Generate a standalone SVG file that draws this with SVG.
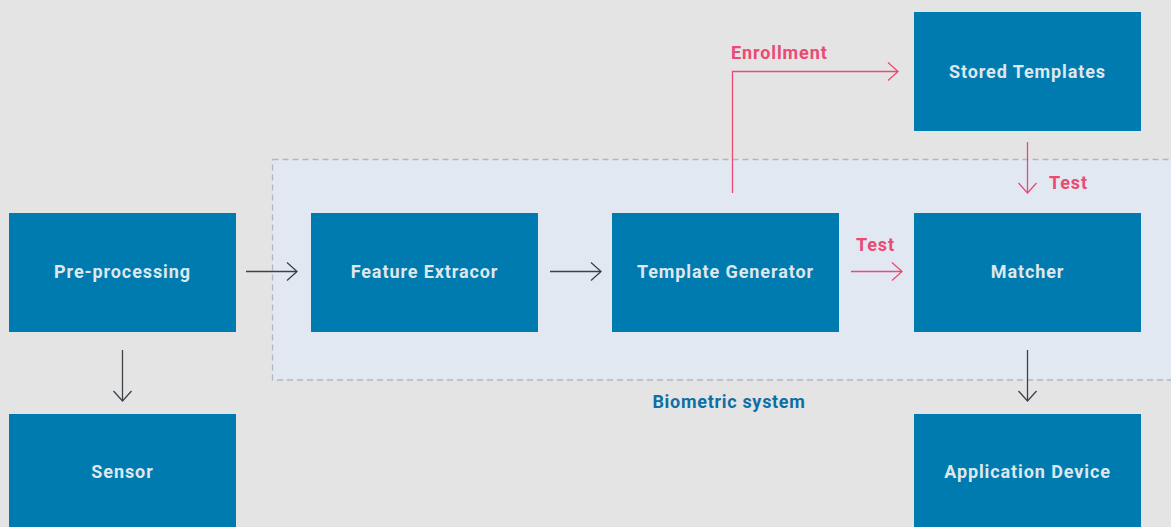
<svg xmlns="http://www.w3.org/2000/svg" width="1171" height="527" viewBox="0 0 1171 527">
<defs>
<style>
.node rect{fill:#007baf}
.node text{fill:#dfe7ee;font-family:Roboto,"Liberation Sans",sans-serif;font-weight:700;font-size:18px;text-anchor:middle;letter-spacing:0.9px}
.c{fill:none;stroke-width:1.3}
.dark{stroke:#3d4249}
.pink{stroke:#ea4a74}
.lbl{font-family:Roboto,"Liberation Sans",sans-serif;font-weight:700;font-size:18px;letter-spacing:0.9px}
</style>
<marker id="ad" viewBox="-11 -10 12 20" refX="0" refY="0" markerWidth="12" markerHeight="20" markerUnits="userSpaceOnUse" orient="auto">
<path d="M-10,-9 L0,0 L-10,9" fill="none" stroke="#3d4249" stroke-width="1.3"/>
</marker>
<marker id="ap" viewBox="-11 -10 12 20" refX="0" refY="0" markerWidth="12" markerHeight="20" markerUnits="userSpaceOnUse" orient="auto">
<path d="M-10,-9 L0,0 L-10,9" fill="none" stroke="#ea4a74" stroke-width="1.3"/>
</marker>
</defs>
<rect width="1171" height="527" fill="#e4e4e4"/>
<g id="biometric-system">
<rect x="272.5" y="159.5" width="910" height="220.5" fill="#e1e8f1" stroke="#b3b7bc" stroke-width="1.3" stroke-dasharray="6,4"/>
<text x="729" y="408" class="lbl" fill="#0e6fa5" text-anchor="middle" style="letter-spacing:0.7px">Biometric system</text>
</g>
<g id="connectors">
<line class="c dark" x1="246" y1="271.5" x2="297" y2="271.5" marker-end="url(#ad)"/>
<line class="c dark" x1="550" y1="271.5" x2="601" y2="271.5" marker-end="url(#ad)"/>
<line class="c pink" x1="851" y1="271.5" x2="902" y2="271.5" marker-end="url(#ap)"/>
<line class="c dark" x1="122.5" y1="350" x2="122.5" y2="401" marker-end="url(#ad)"/>
<line class="c dark" x1="1027.5" y1="350" x2="1027.5" y2="401" marker-end="url(#ad)"/>
<line class="c pink" x1="1027.5" y1="142" x2="1027.5" y2="193" marker-end="url(#ap)"/>
<polyline class="c pink" points="732.5,193 732.5,71.5 898,71.5" marker-end="url(#ap)"/>
<text x="875.5" y="251" class="lbl" fill="#ea4a74" text-anchor="middle">Test</text>
<text x="1068.5" y="189" class="lbl" fill="#ea4a74" text-anchor="middle">Test</text>
<text x="731" y="59" class="lbl" fill="#ea4a74">Enrollment</text>
</g>
<g id="pre-processing" class="node"><rect x="9" y="213" width="227" height="119"/><text x="122.5" y="278">Pre-processing</text></g>
<g id="sensor" class="node"><rect x="9" y="414" width="227" height="119"/><text x="122.5" y="478">Sensor</text></g>
<g id="feature-extractor" class="node"><rect x="311" y="213" width="227" height="119"/><text x="424.5" y="278">Feature Extracor</text></g>
<g id="template-generator" class="node"><rect x="612" y="213" width="227" height="119"/><text x="725.5" y="278">Template Generator</text></g>
<g id="matcher" class="node"><rect x="914" y="213" width="227" height="119"/><text x="1027.5" y="278">Matcher</text></g>
<g id="stored-templates" class="node"><rect x="914" y="12" width="227" height="119"/><text x="1027.5" y="78">Stored Templates</text></g>
<g id="application-device" class="node"><rect x="914" y="414" width="227" height="119"/><text x="1027.5" y="478">Application Device</text></g>
</svg>
